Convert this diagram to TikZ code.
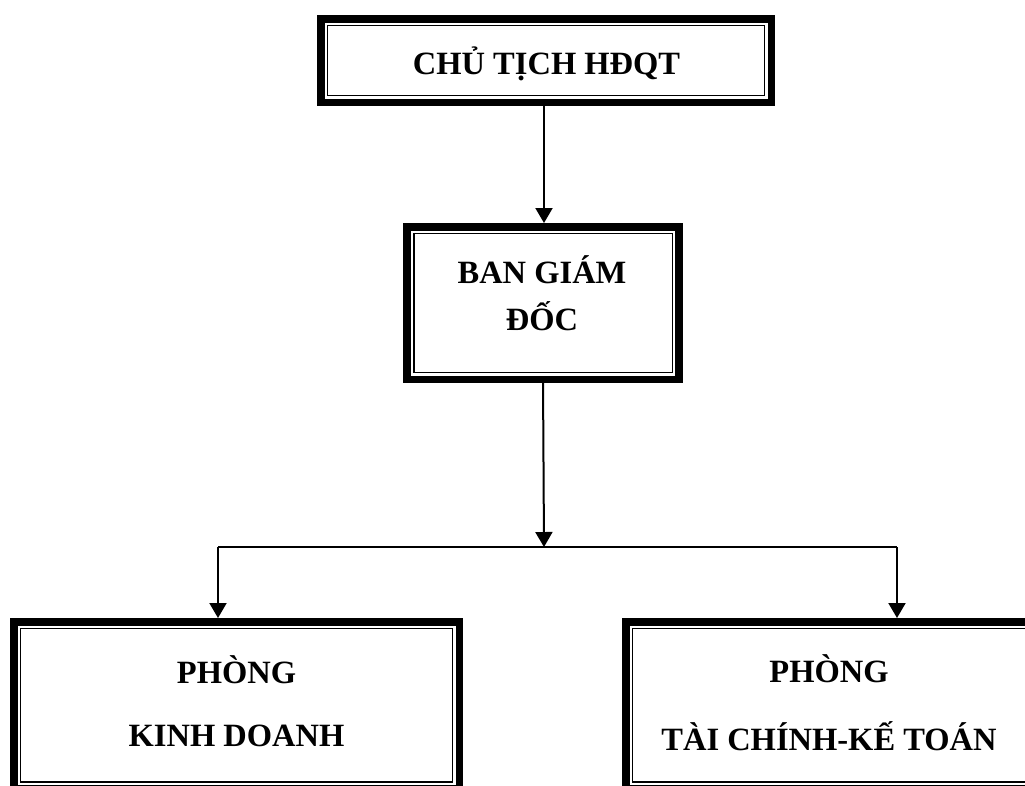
\documentclass[tikz,border=0pt]{standalone}
\usepackage{fontspec}
\setmainfont{Liberation Serif}
\usetikzlibrary{arrows.meta}
\tikzset{
  frame/.style={draw, line width=7.5pt, rectangle, outer sep=0pt, inner sep=0pt},
  innerframe/.style={draw, line width=1.5pt},
  lbl/.style={font=\fontsize{32.5}{38}\selectfont\bfseries, anchor=base, inner sep=0pt},
  conn/.style={line width=2pt},
  arr/.style={conn, -{Triangle[width=17pt,length=15pt]}},
}
\begin{document}
\begin{tikzpicture}[x=1pt,y=-1pt]
\useasboundingbox (0,0) rectangle (1025,785);
\fill[white] (0,0) rectangle (1025,785);
\clip (0,0) rectangle (1025,785);
% boxes
\node[frame, minimum width=450.5pt, minimum height=83.5pt] (top) at (546,60.5) {};
\node[frame, minimum width=272pt, minimum height=152.5pt] (mid) at (543,303) {};
\node[frame, minimum width=445.5pt, minimum height=167pt] (bl) at (236.5,705.25) {};
\node[frame, minimum width=406.5pt, minimum height=167pt] (br) at (829,705.25) {};
\foreach \n in {top,mid,bl,br}
  \draw[innerframe] ([shift={(6.75pt,-6.75pt)}]\n.north west) rectangle ([shift={(-6.75pt,6.75pt)}]\n.south east);
% labels
\node[lbl] (t1) at (546.5,74) {CHỦ TỊCH HĐQT};
\node[lbl] (m1) at (542,283) {BAN GIÁM};
\node[lbl] (m2) at (542,330) {ĐỐC};
\node[lbl] (l1) at (236.5,683) {PHÒNG};
\node[lbl] (l2) at (236.5,746) {KINH DOANH};
\node[lbl] (r1) at (829,682) {PHÒNG};
\node[lbl] (r2) at (829,750.5) {TÀI CHÍNH-KẾ TOÁN};
% connectors
\coordinate (j) at (544,547);
\coordinate (jl) at (218,547);
\coordinate (jr) at (897,547);
\draw[arr] ([xshift=-2pt]top.south) -- ([xshift=-2pt,yshift=3.75pt]top.south |- mid.north);
\draw[arr] (mid.south) -- (j);
\draw[conn] (jl) -- (jr);
\draw[arr] (jl) -- ([yshift=3.75pt]jl |- bl.north);
\draw[arr] (jr) -- ([yshift=3.75pt]jr |- br.north);
\end{tikzpicture}
\end{document}
